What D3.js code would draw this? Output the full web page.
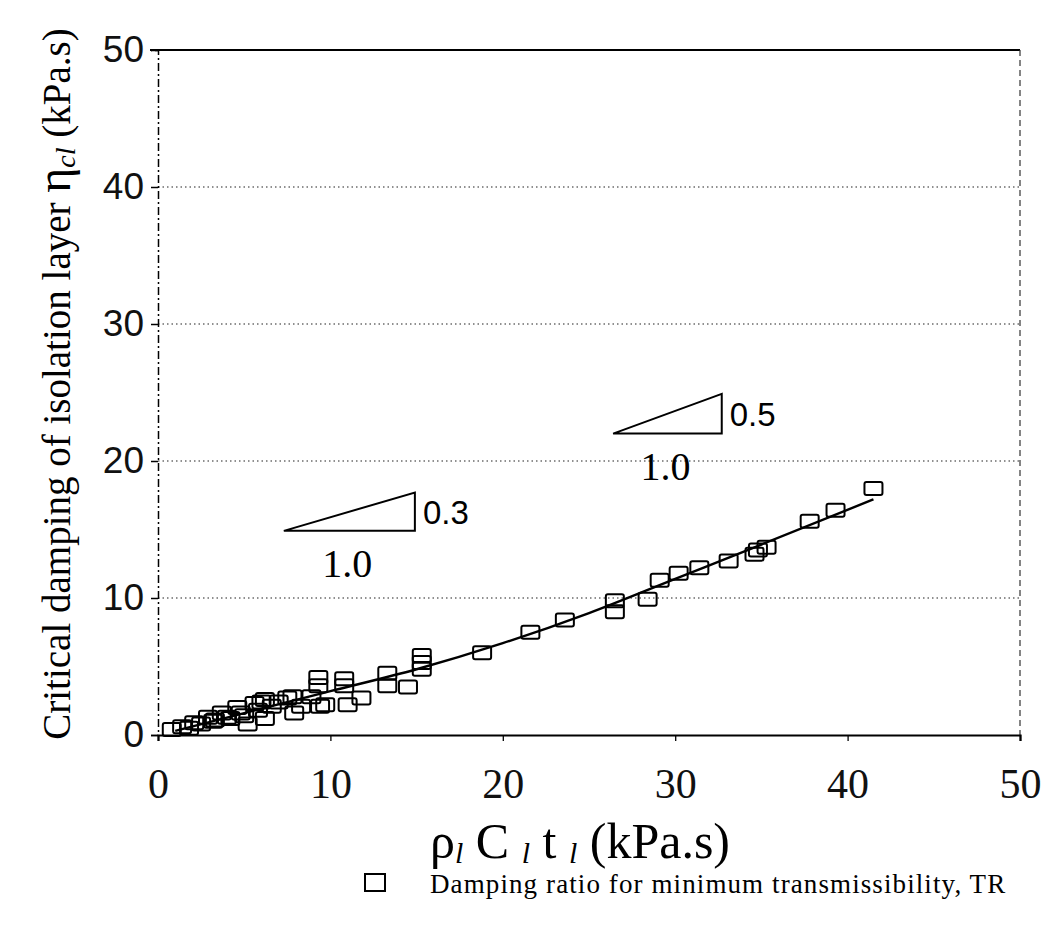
<!DOCTYPE html>
<html><head><meta charset="utf-8">
<script src="https://cdn.jsdelivr.net/npm/d3@7"></script>
<style>body{margin:0;background:#fff}</style>
</head><body>
<svg id="c" width="1043" height="926"></svg>
<script>
const xTicks = [0, 10, 20, 30, 40, 50];
const yTicks = [0, 10, 20, 30, 40, 50];
const gridValues = [10, 20, 30, 40];
// measured points (x: rho C t, y: eta_cl)
const ptsX = [0.8,1.4,1.8,2.1,2.5,2.9,3.2,3.3,3.7,4.0,4.2,4.6,4.8,5.0,5.2,5.6,5.8,6.0,6.2,6.2,6.6,7.0,7.5,7.8,7.9,8.3,8.9,9.3,9.3,9.4,9.7,10.8,10.8,11.0,11.8,13.3,13.3,14.5,15.3,15.3,15.3,18.8,21.6,23.6,26.5,26.5,28.4,29.1,30.2,31.4,33.1,34.6,34.8,35.3,37.8,39.3,41.5];
const ptsY = [0.4,0.6,0.5,0.9,0.8,1.3,1.0,1.1,1.6,1.3,1.2,2.0,1.6,1.4,0.8,2.3,1.8,2.4,2.6,1.2,2.1,2.4,2.7,2.8,1.6,2.1,2.8,4.2,3.6,2.1,2.2,4.1,3.6,2.2,2.7,4.5,3.6,3.5,5.8,5.3,4.8,6.0,7.5,8.4,9.8,9.0,9.9,11.3,11.8,12.2,12.7,13.2,13.5,13.7,15.6,16.4,18.0];
// fitted curve
const fitX = [1, 5, 10, 15, 20, 25, 30, 35, 41.5];
const fitY = [0.3, 1.6, 3.2, 4.8, 6.7, 8.9, 11.4, 13.9, 17.2];
// slope triangles [x0, x1, y0, y1]
const tri1 = [7.3, 14.9, 14.9, 17.7];
const tri2 = [26.4, 32.7, 22.0, 24.9];

const svg = d3.select("#c");
const x = d3.scaleLinear().domain([0, 50]).range([158, 1020]);
const y = d3.scaleLinear().domain([0, 50]).range([735, 50]);

// gridlines
svg.append("g").selectAll("line").data(gridValues).join("line")
  .attr("x1", x(0)).attr("x2", x(50)).attr("y1", d => y(d)).attr("y2", d => y(d))
  .attr("stroke", "#222").attr("stroke-width", 1.2).attr("stroke-dasharray", "1.5,3");

// frame
svg.append("line").attr("x1", x(0) - 8).attr("x2", x(50)).attr("y1", y(50)).attr("y2", y(50))
  .attr("stroke", "#000").attr("stroke-width", 2.2);
svg.append("line").attr("x1", x(50)).attr("x2", x(50)).attr("y1", y(50)).attr("y2", y(0))
  .attr("stroke", "#333").attr("stroke-width", 1.2).attr("stroke-dasharray", "6,4");

// axes
const yAxis = svg.append("g").attr("transform", `translate(${x(0)},0)`)
  .call(d3.axisLeft(y).tickValues(yTicks).tickSize(7).tickFormat(d3.format("d")));
yAxis.select(".domain").attr("stroke", "#000").attr("stroke-width", 1.5).attr("stroke-dasharray", "8,3,2,3");
yAxis.selectAll(".tick line").attr("stroke-width", 1.5);
yAxis.selectAll(".tick text").attr("font-family", "Liberation Sans, Arial, sans-serif")
  .attr("font-size", 37).attr("fill", "#111").attr("x", -14);

const xAxis = svg.append("g").attr("transform", `translate(0,${y(0)})`)
  .call(d3.axisBottom(x).tickValues(xTicks).tickSize(6).tickFormat(d3.format("d")));
xAxis.select(".domain").attr("stroke", "#000").attr("stroke-width", 2.2);
xAxis.selectAll(".tick line").attr("stroke-width", 1.3);
xAxis.selectAll(".tick text").attr("font-family", "Liberation Serif, Times New Roman, serif")
  .attr("font-size", 42).attr("fill", "#111").attr("y", 33);

// fit line
svg.append("path").datum(fitX.map((v, i) => [v, fitY[i]]))
  .attr("d", d3.line().x(d => x(d[0])).y(d => y(d[1])).curve(d3.curveMonotoneX))
  .attr("fill", "none").attr("stroke", "#000").attr("stroke-width", 2.4);

// markers
svg.append("g").selectAll("rect").data(ptsX.map((v, i) => [v, ptsY[i]])).join("rect")
  .attr("x", d => x(d[0]) - 9).attr("y", d => y(d[1]) - 6.5)
  .attr("width", 18).attr("height", 13).attr("rx", 2)
  .attr("fill", "none").attr("stroke", "#000").attr("stroke-width", 2);

// slope triangles
function triangle(t, label) {
  const [x0, x1, y0, y1] = t;
  svg.append("path")
    .attr("d", `M${x(x0)},${y(y0)} L${x(x1)},${y(y0)} L${x(x1)},${y(y1)} Z`)
    .attr("fill", "none").attr("stroke", "#000").attr("stroke-width", 2);
  svg.append("text").attr("x", x(x1) + 8).attr("y", (y(y0) + y(y1)) / 2 + 12)
    .attr("font-family", "Liberation Sans, Arial, sans-serif").attr("font-size", 33).text(label);
  svg.append("text").attr("x", (x(x0) + x(x1)) / 2 - 2).attr("y", y(y0) + 46)
    .attr("text-anchor", "middle")
    .attr("font-family", "Liberation Serif, Times New Roman, serif").attr("font-size", 40).text("1.0");
}
triangle(tri1, "0.3");
triangle(tri2, "0.5");

// axis titles
const xt = svg.append("text").attr("x", 580).attr("y", 858).attr("text-anchor", "middle")
  .attr("font-family", "Liberation Serif, Times New Roman, serif").attr("font-size", 50);
xt.append("tspan").text("ρ");
xt.append("tspan").attr("font-style", "italic").attr("font-size", 30).attr("dy", 5).text("l");
xt.append("tspan").attr("dy", -5).text(" C ");
xt.append("tspan").attr("font-style", "italic").attr("font-size", 30).attr("dy", 5).text("l");
xt.append("tspan").attr("dy", -5).text(" t ");
xt.append("tspan").attr("font-style", "italic").attr("font-size", 30).attr("dy", 5).text("l");
xt.append("tspan").attr("dy", -5).text(" (kPa.s)");

const yt = svg.append("text").attr("transform", "translate(70,384) rotate(-90)")
  .attr("text-anchor", "middle")
  .attr("font-family", "Liberation Serif, Times New Roman, serif").attr("font-size", 39);
yt.append("tspan").text("Critical damping of isolation layer ");
yt.append("tspan").attr("font-size", 48).text("η");
yt.append("tspan").attr("font-style", "italic").attr("font-size", 28).attr("dy", 5).text("cl");
yt.append("tspan").attr("dy", -5).text(" (kPa.s)");

// legend
svg.append("rect").attr("x", 365).attr("y", 874).attr("width", 20).attr("height", 17)
  .attr("fill", "none").attr("stroke", "#000").attr("stroke-width", 2);
svg.append("text").attr("x", 430).attr("y", 893)
  .attr("font-family", "Liberation Serif, Times New Roman, serif").attr("font-size", 27)
  .attr("letter-spacing", 1.1)
  .text("Damping ratio for minimum transmissibility, TR");
</script>
</body></html>
